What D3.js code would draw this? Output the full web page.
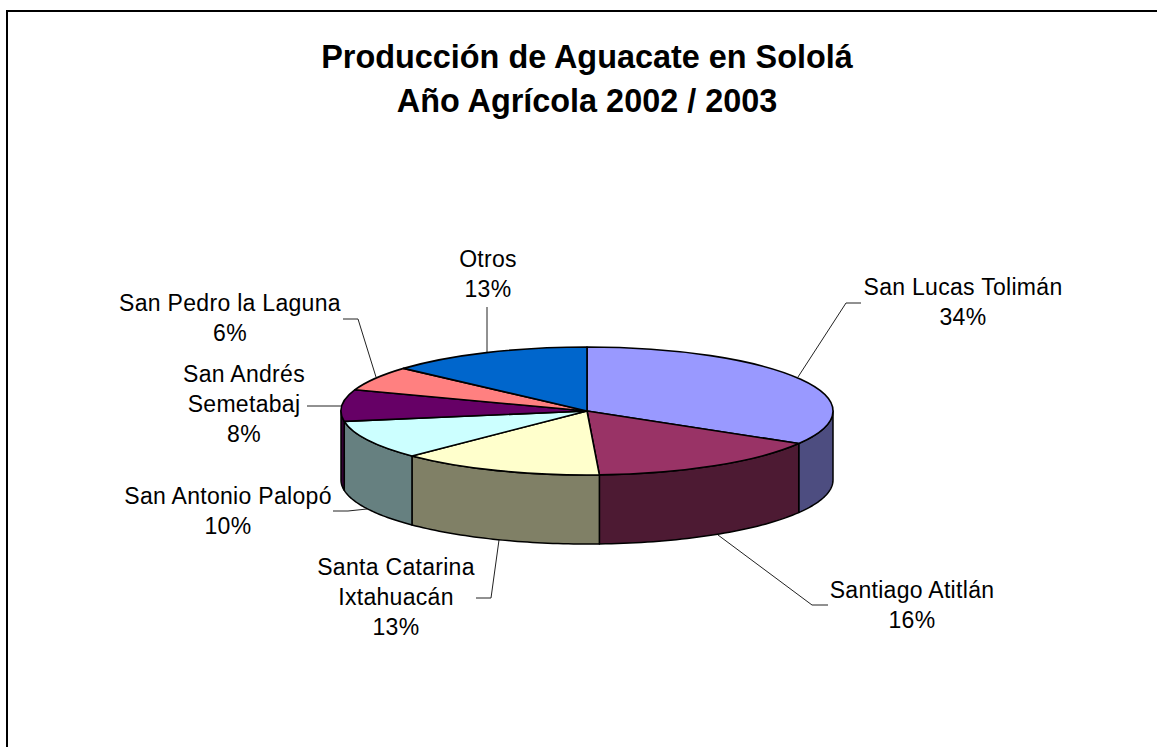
<!DOCTYPE html>
<html><head><meta charset="utf-8">
<script src="https://cdnjs.cloudflare.com/ajax/libs/d3/7.8.5/d3.min.js"></script>
<style>html,body{margin:0;padding:0;background:#fff;overflow:hidden}svg{display:block}text{font-family:"Liberation Sans",Arial,sans-serif;fill:#000}</style>
</head><body><svg id="c" width="1157" height="747"></svg>
<script>
const titleLines = ["Producción de Aguacate en Sololá", "Año Agrícola 2002 / 2003"];
const municipios = ["San Lucas Tolimán","Santiago Atitlán","Santa Catarina Ixtahuacán","San Antonio Palopó","San Andrés Semetabaj","San Pedro la Laguna","Otros"];
const shares = [33.5,15.7,13.4,9.8,8,6.2,13.4];
const topColors = ["#9999ff","#993366","#ffffcc","#ccffff","#660066","#ff8080","#0066cc"];
const sideColors = ["#4d4d80","#4d1a33","#808066","#668080","#330033","#804040","#003366"];
const labelLines = [["San Lucas Tolimán"],["Santiago Atitlán"],["Santa Catarina","Ixtahuacán"],["San Antonio Palopó"],["San Andrés","Semetabaj"],["San Pedro la Laguna"],["Otros"]];
const labelAnchors = [[963,295],[912,598],[396,575],[228,504],[244,382],[230,311],[488,267]];
const leaders = [[[861,303],[846,303],[798,377]],[[828,605],[812,605],[718,535]],[[476,598],[491,598],[499,540]],[[333,511],[348,511],[367,509]],[[307,406],[341,406]],[[343,319],[358,319],[376,377]],[[487,307],[487,352]]];

const svg = d3.select("#c");
const cx=587, cy=411, rx=246, ry=64, depth=69;
const line = d3.line();
svg.append("path").attr("d",line([[7,747],[7,11],[1157,11]])).attr("fill","none").attr("stroke","#000").attr("stroke-width",2);
svg.selectAll("text.t").data(titleLines).join("text").attr("class","t").attr("x",587).attr("y",(d,i)=>68+i*44).attr("text-anchor","middle").attr("font-size",32.4).attr("font-weight","bold").text(d=>d);

const arcs = d3.pie().sort(null).value(d=>d)(shares);
const px = a => cx + rx*Math.sin(a), py = a => cy - ry*Math.cos(a);

svg.append("g").selectAll("path").data(leaders).join("path").attr("d",d=>line(d)).attr("fill","none").attr("stroke","#222").attr("stroke-width",1);

const visible = arcs.map((a,i)=>({i,a0:Math.max(a.startAngle,Math.PI/2),a1:Math.min(a.endAngle,1.5*Math.PI)})).filter(d=>d.a1>d.a0);
const wall = d => {
  const n=40, s=d3.range(n+1).map(k=>d.a0+(d.a1-d.a0)*k/n);
  const up=s.map(a=>[px(a),py(a)]), down=s.slice().reverse().map(a=>[px(a),py(a)+depth]);
  return line(up.concat(down))+"Z";
};
svg.append("g").selectAll("path").data(visible).join("path").attr("d",wall).attr("fill",d=>sideColors[d.i]).attr("stroke","#000").attr("stroke-width",1.5).attr("stroke-linejoin","round");

const arcGen = d3.arc().innerRadius(0).outerRadius(rx);
svg.append("g").attr("transform",`translate(${cx},${cy}) scale(1,${ry/rx})`)
  .selectAll("path").data(arcs).join("path").attr("d",arcGen).attr("fill",(d,i)=>topColors[i]).attr("stroke","#000").attr("stroke-width",1.6).attr("vector-effect","non-scaling-stroke").attr("stroke-linejoin","round");

const lh=30;
svg.append("g").selectAll("text").data(municipios).join("text").attr("text-anchor","middle").attr("font-size",23).attr("letter-spacing",0.3).each(function(d,i){
  const t=d3.select(this), lines=labelLines[i].concat([Math.round(shares[i])+"%"]);
  lines.forEach((l,k)=>t.append("tspan").attr("x",labelAnchors[i][0]).attr("y",labelAnchors[i][1]+k*lh).text(l));
});
</script></body></html>
